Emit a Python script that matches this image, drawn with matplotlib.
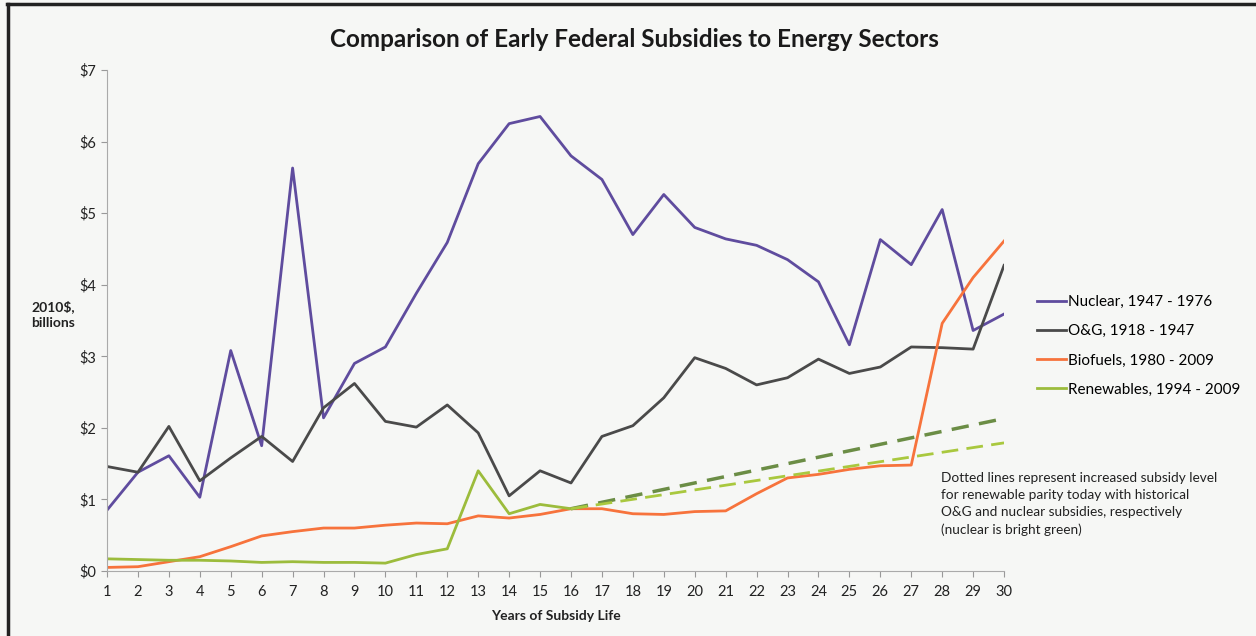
"""Early federal subsidies to energy sectors, by year of subsidy life."""

import matplotlib.pyplot as plt
from matplotlib.lines import Line2D

plt.rcParams['font.family'] = ['Lato', 'DejaVu Sans']

years = list(range(1, 31))
nuclear = [0.85, 1.38, 1.61, 1.03, 3.08, 1.75, 5.63, 2.14, 2.90, 3.13,
           3.88, 4.59, 5.69, 6.25, 6.35, 5.80, 5.47, 4.70, 5.26, 4.80,
           4.64, 4.55, 4.35, 4.04, 3.16, 4.63, 4.28, 5.05, 3.36, 3.59]
oil_gas = [1.46, 1.38, 2.02, 1.26, 1.58, 1.88, 1.53, 2.28, 2.62, 2.09,
           2.01, 2.32, 1.93, 1.05, 1.40, 1.23, 1.88, 2.03, 2.42, 2.98,
           2.83, 2.60, 2.70, 2.96, 2.76, 2.85, 3.13, 3.12, 3.10, 4.27]
biofuels = [0.05, 0.06, 0.13, 0.20, 0.34, 0.49, 0.55, 0.60, 0.60, 0.64,
            0.67, 0.66, 0.77, 0.74, 0.79, 0.87, 0.87, 0.80, 0.79, 0.83,
            0.84, 1.08, 1.30, 1.35, 1.42, 1.47, 1.48, 3.46, 4.10, 4.61]
renew_years = list(range(1, 17))
renewables = [0.17, 0.16, 0.15, 0.15, 0.14, 0.12, 0.13, 0.12, 0.12, 0.11,
              0.23, 0.31, 1.40, 0.80, 0.93, 0.87]
parity_years = [16, 30]
parity_og = [0.87, 2.13]
parity_nuclear = [0.87, 1.79]

BG = '#f6f7f5'
PURPLE = '#5f4c9e'
GREY = '#4a4a4a'
ORANGE = '#f7733c'
GREEN = '#9cbc3c'
DARK_GREEN = '#6b8d45'
LIGHT_GREEN = '#a9c83e'

fig = plt.figure(figsize=(12.56, 6.36), dpi=100, facecolor=BG)
ax = fig.add_axes([0.0852, 0.1022, 0.7142, 0.7878], facecolor=BG)

ax.plot(years, nuclear, color=PURPLE, lw=2)
ax.plot(years, oil_gas, color=GREY, lw=2)
ax.plot(years, biofuels, color=ORANGE, lw=2)
ax.plot(renew_years, renewables, color=GREEN, lw=2)
ax.plot(parity_years, parity_og, color=DARK_GREEN, lw=2.5, ls=(0, (5, 3)))
ax.plot(parity_years, parity_nuclear, color=LIGHT_GREEN, lw=2, ls=(0, (6, 3)))

ax.set_xlim(1, 30)
ax.set_ylim(0, 7)
ax.set_xticks(years)
ax.set_yticks(range(8))
ax.set_yticklabels([f'${v}' for v in range(8)])
ax.tick_params(colors='#999999', labelcolor='#222222', labelsize=10.5,
               length=4, direction='out')
for side in ('top', 'right'):
    ax.spines[side].set_visible(False)
for side in ('left', 'bottom'):
    ax.spines[side].set_color('#aaaaaa')
ax.tick_params(axis='x', pad=6)

ax.set_xlabel('Years of Subsidy Life', fontsize=10, fontweight='bold',
              color='#222222', labelpad=8)
fig.text(0.025, 0.505, '2010$,\nbillions', fontsize=10, fontweight='bold',
         color='#222222', ha='left', va='center', linespacing=1.4)
fig.suptitle('Comparison of Early Federal Subsidies to Energy Sectors',
             x=0.505, y=0.956, fontsize=17.5, fontweight='bold',
             color='#1a1a1a')

handles = [Line2D([], [], color=c, lw=2) for c in (PURPLE, GREY, ORANGE, GREEN)]
labels = ['Nuclear, 1947 - 1976', 'O&G, 1918 - 1947',
          'Biofuels, 1980 - 2009', 'Renewables, 1994 - 2009']
fig.legend(handles, labels, loc='upper left', bbox_to_anchor=(0.815, 0.558),
           frameon=False, fontsize=11, handlelength=1.9, handletextpad=0.1,
           labelspacing=1.0)

fig.text(0.749, 0.2075,
         'Dotted lines represent increased subsidy level\n'
         'for renewable parity today with historical\n'
         'O&G and nuclear subsidies, respectively\n'
         '(nuclear is bright green)',
         fontsize=9.8, color='#222222', ha='left', va='center',
         linespacing=1.5)

# frame around the chart (left and top edges)
fig.add_artist(Line2D([0.0065, 0.0065], [0, 0.993], color='#222222', lw=2.5,
                      transform=fig.transFigure))
fig.add_artist(Line2D([0.0055, 1], [0.993, 0.993], color='#222222', lw=2.5,
                      transform=fig.transFigure))

fig.savefig('out.png', dpi=100, facecolor=BG)
